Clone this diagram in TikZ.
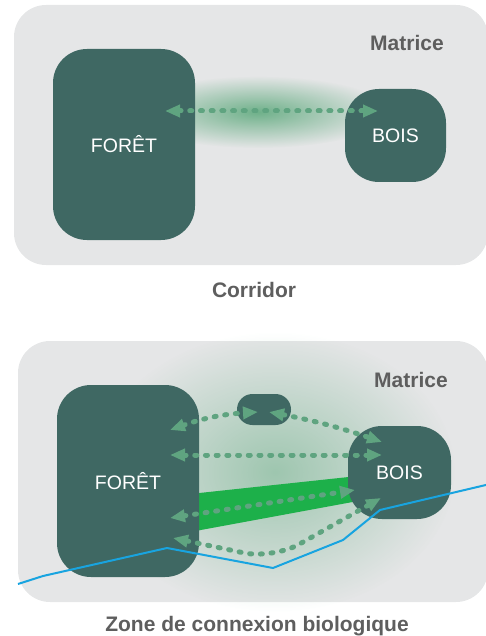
\documentclass[tikz,border=0pt]{standalone}
\usepackage{fontspec}
\setmainfont{Liberation Sans}
\usetikzlibrary{arrows.meta,fadings}

\definecolor{matrice}{HTML}{E5E6E7}
\definecolor{bloc}{HTML}{3F6863}
\definecolor{fleche}{HTML}{5FA480}
\definecolor{texte}{HTML}{5E5E5E}
\definecolor{halo}{HTML}{3C9A62}
\definecolor{bande}{HTML}{1DB04A}
\definecolor{riviere}{HTML}{18A4E0}

\tikzfading[name=halofort, inner color=transparent!30, outer color=transparent!100]
\tikzfading[name=halodoux, inner color=transparent!58, outer color=transparent!100]

\tikzset{
  panneau/.style={fill=matrice, rounded corners=32pt},
  bloc/.style={fill=bloc, rounded corners=34pt, text=white, inner sep=0pt,
    font=\fontsize{19.5}{22}\selectfont},
  titre/.style={text=texte, font=\bfseries\fontsize{21}{24}\selectfont},
  flux/.style={fleche, line width=5pt, dash pattern=on 2pt off 8.7pt, line cap=round,
    {Triangle[length=15pt,width=12pt]}-{Triangle[length=15pt,width=12pt]}},
}

\begin{document}
\begin{tikzpicture}[x=1pt,y=-1pt]
  \useasboundingbox (0,0) rectangle (486,636);

  % corridor
  \fill[panneau] (14,5) rectangle (488,265);
  \fill[halo, path fading=halofort] (258,112) ellipse [x radius=132, y radius=36];

  \node[bloc, minimum width=142pt, minimum height=191pt] (foret1) at (124,144.5) {FORÊT};
  \node[bloc, minimum width=101pt, minimum height=93pt]  (bois1)  at (395.5,135.5) {BOIS};
  \node[titre] (mat1) at (407,43) {Matrice};
  \node[titre] (lab1) at (254,290) {Corridor};

  \coordinate (t1) at (165,111);
  \coordinate (t2) at (378,111);
  \draw[flux] (t1) -- (t2);

  % zone de connexion
  \fill[panneau] (18,341) rectangle (488,602);
  \fill[halo, path fading=halodoux] (275,472) ellipse [x radius=180, y radius=140];
  \fill[bande] (190,494) -- (358,476) -- (358,501) -- (190,532) -- cycle;

  \node[bloc, minimum width=142pt, minimum height=192pt] (foret2) at (128,481) {FORÊT};
  \node[bloc, minimum width=103pt, minimum height=93pt]  (bois2)  at (399.5,472.5) {BOIS};
  \node[bloc, rounded corners=15.5pt, minimum width=54pt, minimum height=31pt] (ilot) at (264,409.5) {};
  \node[titre] (mat2) at (411,380) {Matrice};
  \node[titre] (lab2) at (257,626) {Zone de connexion biologique};

  \draw[riviere, line width=2pt] (18,584) -- (43,576) -- (167,548) -- (273,568)
    -- (343,540) -- (380,510) -- (490,484);

  \coordinate (c1) at (170,430);
  \coordinate (c2) at (258,412);
  \coordinate (c3) at (269,412);
  \coordinate (c4) at (382,442);
  \coordinate (c5) at (170,455);
  \coordinate (c6) at (382,455);
  \coordinate (c7) at (170,518);
  \coordinate (c8) at (355,490);
  \coordinate (c9) at (173,538);
  \coordinate (c10) at (273,559);
  \coordinate (c11) at (381,498);

  \draw[flux] (c1) to[bend left=8] (c2);
  \draw[flux] (c3) to[bend left=4] (c4);
  \draw[flux] (c5) -- (c6);
  \draw[flux] (c7) -- (c8);
  \draw[flux, rounded corners=30pt] (c9) -- (c10) -- (c11);

\end{tikzpicture}
\end{document}
